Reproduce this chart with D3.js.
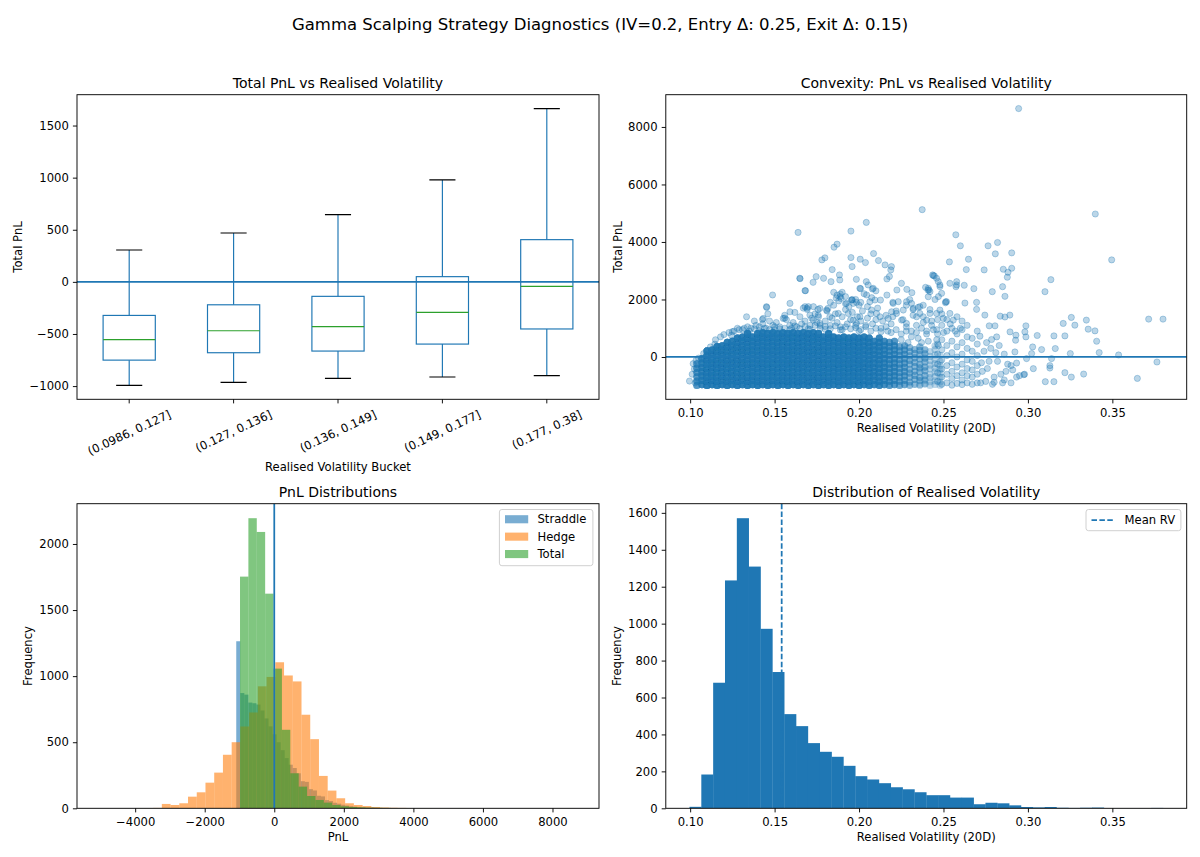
<!doctype html>
<html>
<head>
<meta charset="utf-8">
<script src="https://cdn.jsdelivr.net/npm/d3@7"></script>
<style>
  body { margin: 0; background: #fff; }
  svg { font-family: "DejaVu Sans", sans-serif; }
</style>
</head>
<body>
<script>
// ---------- data: box plot of total PnL by realised-vol bucket ----------
var bucketLabels = ["(0.0986, 0.127]", "(0.127, 0.136]", "(0.136, 0.149]", "(0.149, 0.177]", "(0.177, 0.38]"];
var whiskerLow  = [-994, -965, -926, -913, -900];
var boxQ1       = [-751, -680, -664, -597, -452];
var boxMedian   = [-554, -469, -430, -293, -43];
var boxQ3       = [-322, -220, -139, 50, 405];
var whiskerHigh = [306, 469, 645, 978, 1663];

// ---------- data: scatter, total PnL vs realised vol ----------
// dense core: [rv, overlapping points per position, pnl values]
var coreColumns = [
  [0.104, 4, [-990,-840,-690,-540,-390,-240]],
  [0.107, 6, [-960,-810,-660,-510,-360,-210,-60]],
  [0.110, 8, [-990,-840,-690,-540,-390,-240,-90,60,210]],
  [0.113, 8, [-960,-810,-660,-510,-360,-210,-60,90,240]],
  [0.116, 8, [-990,-840,-690,-540,-390,-240,-90,60,210,360]],
  [0.119, 8, [-960,-810,-660,-510,-360,-210,-60,90,240,390]],
  [0.122, 8, [-990,-840,-690,-540,-390,-240,-90,60,210,360,510]],
  [0.125, 8, [-960,-810,-660,-510,-360,-210,-60,90,240,390,540]],
  [0.128, 8, [-990,-840,-690,-540,-390,-240,-90,60,210,360,510,660]],
  [0.131, 8, [-960,-810,-660,-510,-360,-210,-60,90,240,390,540,690]],
  [0.134, 8, [-990,-840,-690,-540,-390,-240,-90,60,210,360,510,660,810]],
  [0.137, 8, [-960,-810,-660,-510,-360,-210,-60,90,240,390,540,690]],
  [0.140, 8, [-990,-840,-690,-540,-390,-240,-90,60,210,360,510,660,810]],
  [0.143, 8, [-960,-810,-660,-510,-360,-210,-60,90,240,390,540,690,840]],
  [0.146, 8, [-990,-840,-690,-540,-390,-240,-90,60,210,360,510,660,810]],
  [0.149, 8, [-960,-810,-660,-510,-360,-210,-60,90,240,390,540,690,840]],
  [0.152, 8, [-990,-840,-690,-540,-390,-240,-90,60,210,360,510,660,810]],
  [0.155, 8, [-960,-810,-660,-510,-360,-210,-60,90,240,390,540,690,840]],
  [0.158, 8, [-990,-840,-690,-540,-390,-240,-90,60,210,360,510,660,810]],
  [0.161, 8, [-960,-810,-660,-510,-360,-210,-60,90,240,390,540,690,840]],
  [0.164, 8, [-990,-840,-690,-540,-390,-240,-90,60,210,360,510,660,810]],
  [0.167, 8, [-960,-810,-660,-510,-360,-210,-60,90,240,390,540,690,840]],
  [0.170, 8, [-990,-840,-690,-540,-390,-240,-90,60,210,360,510,660,810]],
  [0.173, 8, [-960,-810,-660,-510,-360,-210,-60,90,240,390,540,690,840]],
  [0.176, 8, [-990,-840,-690,-540,-390,-240,-90,60,210,360,510,660,810]],
  [0.179, 8, [-960,-810,-660,-510,-360,-210,-60,90,240,390,540,690]],
  [0.182, 8, [-990,-840,-690,-540,-390,-240,-90,60,210,360,510,660,810]],
  [0.185, 8, [-960,-810,-660,-510,-360,-210,-60,90,240,390,540,690]],
  [0.188, 8, [-990,-840,-690,-540,-390,-240,-90,60,210,360,510,660]],
  [0.191, 8, [-960,-810,-660,-510,-360,-210,-60,90,240,390,540,690]],
  [0.194, 8, [-990,-840,-690,-540,-390,-240,-90,60,210,360,510,660]],
  [0.197, 8, [-960,-810,-660,-510,-360,-210,-60,90,240,390,540,690]],
  [0.200, 8, [-990,-840,-690,-540,-390,-240,-90,60,210,360,510,660]],
  [0.203, 7, [-960,-810,-660,-510,-360,-210,-60,90,240,390,540,690]],
  [0.206, 7, [-990,-840,-690,-540,-390,-240,-90,60,210,360,510,660]],
  [0.209, 6, [-960,-810,-660,-510,-360,-210,-60,90,240,390,540]],
  [0.212, 6, [-990,-840,-690,-540,-390,-240,-90,60,210,360,510,660]],
  [0.215, 5, [-960,-810,-660,-510,-360,-210,-60,90,240,390,540]],
  [0.218, 4, [-990,-840,-690,-540,-390,-240,-90,60,210,360,510]],
  [0.221, 4, [-960,-810,-660,-510,-360,-210,-60,90,240,390,540]],
  [0.224, 3, [-990,-840,-690,-540,-390,-240,-90,60,210,360]],
  [0.227, 3, [-960,-810,-660,-510,-360,-210,-60,90,240,390]],
  [0.230, 2, [-985,-870,-700,-560,-430,-250,-120,40,190,330]],
  [0.233, 2, [-950,-780,-640,-500,-330,-190,-30,130,260]],
  [0.236, 2, [-975,-820,-710,-520,-380,-260,-70,80,230,350]],
  [0.239, 2, [-940,-800,-650,-480,-350,-170,-40,110,250]],
  [0.242, 1, [-990,-860,-720,-600,-410,-280,-130,20,190]],
  [0.245, 1, [-955,-830,-680,-520,-390,-230,-90,70,260,390]],
  [0.248, 1, [-980,-870,-700,-560,-420,-300,-150,60]]
];
// individually visible points: [rv, pnl]
var scatterPoints = [
  [0.0996,-838],[0.1018,-233],[0.1012,-600],[0.1025,-420],[0.1030,-900],[0.1035,-120],[0.1050,-40],[0.1080,120],
  [0.112,350],[0.1146,444],[0.115,600],[0.118,700],[0.120,780],[0.1245,758],[0.123,850],[0.126,900],[0.128,1000],
  [0.131,950],[0.1334,1399],[0.134,1050],[0.136,1000],[0.139,1100],[0.141,1050],[0.1433,1340],[0.143,1150],
  [0.145,1000],[0.1452,1748],[0.147,1250],[0.1488,2156],[0.149,1100],[0.151,1200],[0.153,1050],[0.1551,1340],
  [0.157,1300],[0.159,1100],[0.1591,1864],[0.1591,1573],[0.161,1200],[0.163,1050],[0.165,1400],[0.166,1150],
  [0.168,1250],[0.1680,1748],[0.1693,1655],[0.171,1100],[0.172,1350],[0.174,1500],[0.175,1200],[0.177,1100],
  [0.180,1250],[0.181,1600],[0.183,1100],[0.184,1350],[0.186,1500],[0.187,1200],[0.189,1050],[0.190,1400],
  [0.192,1650],[0.193,1150],[0.195,1300],[0.196,1550],[0.198,1100],[0.199,1400],[0.201,1250],[0.202,1600],
  [0.204,1050],[0.205,1350],[0.207,1500],[0.208,1150],[0.210,1300],[0.211,1700],[0.213,1000],[0.214,1250],
  [0.216,1450],[0.217,900],[0.219,1150],[0.220,1400],[0.222,1600],[0.150,950],[0.160,1000],[0.170,980],
  [0.180,960],[0.190,950],[0.200,900],[0.146,1500],[0.167,1700],[0.173,1750],[0.185,1800],[0.194,1750],
  [0.198,2000],[0.201,1900],[0.185,2250],[0.192,2100],[0.183,1900],[0.138,1250],[0.156,1450],[0.162,1550],
  [0.1768,1690],[0.1758,1457],[0.1808,1632],[0.1827,1399],[0.1709,1457],[0.1729,1282],[0.1768,1166],
  [0.1887,2097],[0.1926,1865],[0.1956,1981],[0.1966,1865],[0.2005,2389],[0.2045,2156],[0.2054,2505],
  [0.2084,2389],[0.1877,1515],[0.1936,1515],[0.1966,1282],[0.1985,1166],[0.2005,1399],[0.2064,1923],
  [0.2094,1981],[0.2074,1632],[0.2104,1515],[0.2124,1399],[0.2202,1865],[0.2232,1923],[0.2262,1632],
  [0.2281,1923],[0.2311,1865],[0.2321,1690],[0.2360,1748],[0.2380,1399],[0.2400,1282],[0.2410,2389],
  [0.2420,2272],[0.2469,2622],[0.2479,2447],[0.2489,2214],[0.2518,1923],[0.2538,2563],[0.2578,2505],
  [0.2173,1340],[0.2193,1573],[0.2222,1515],[0.2252,1282],[0.2281,1166],[0.2341,1399],[0.2360,1515],
  [0.2420,1515],[0.2459,1515],[0.2479,1632],[0.2499,1340],[0.2538,1515],[0.2558,1282],
  [0.125,880],[0.129,950],[0.132,1000],[0.135,900],[0.138,980],[0.141,920],[0.144,1000],[0.147,950],
  [0.150,1050],[0.153,980],[0.156,1000],[0.159,950],[0.162,1080],[0.165,990],[0.168,1050],[0.171,960],
  [0.174,1100],[0.177,1000],[0.180,1060],[0.183,980],[0.186,1080],[0.189,940],[0.192,1050],[0.195,980],
  [0.198,1020],[0.201,950],[0.204,1100],[0.207,900],[0.210,1000],[0.213,880],[0.216,1050],[0.219,850],
  [0.222,950],[0.225,800],[0.228,1050],[0.231,900],[0.234,850],[0.237,1000],[0.240,900],[0.243,1100],
  [0.246,950],[0.250,850],[0.254,1150],[0.257,900],[0.260,1000],
  [0.2945,8640],[0.2374,5124],[0.3399,4972],[0.2043,4681],[0.1639,4332],[0.1952,4378],[0.2573,4250],
  [0.2600,3866],[0.2764,3866],[0.2820,3982],[0.1852,3819],[0.1870,3924],[0.2904,3621],[0.2807,3587],
  [0.2086,3598],[0.1780,3377],[0.1798,3447],[0.1952,3458],[0.2007,3400],[0.2038,3284],[0.2115,3354],
  [0.2154,3202],[0.2192,3144],[0.2188,3028],[0.1959,3144],[0.2535,3307],[0.2648,3400],[0.2635,3039],
  [0.2741,3028],[0.2854,3051],[0.2904,3086],[0.2882,2946],[0.2878,2774],[0.3496,3377],[0.3136,2690],
  [0.3101,2271],[0.1841,3039],[0.1884,2853],[0.1746,2795],[0.1790,2737],[0.1834,2620],[0.1728,2597],
  [0.1651,2725],[0.1886,2678],[0.1984,2702],[0.2043,2620],[0.1680,2306],[0.2165,2713],[0.2180,2800],
  [0.2251,2562],[0.2283,2352],[0.2313,2236],[0.2224,2329],[0.2165,2154],[0.2127,1980],[0.2075,2061],
  [0.2009,2376],[0.2079,2364],[0.1889,2189],[0.1893,2038],[0.1957,1980],[0.2394,2422],[0.2408,2329],
  [0.2436,2854],[0.2440,2830],[0.2446,2820],[0.2459,2739],[0.2479,2505],[0.2414,2330],[0.2410,2096],
  [0.2512,1886],[0.2578,2620],[0.2574,2445],[0.2623,2494],[0.2680,2376],[0.2789,2271],[0.2850,2445],
  [0.2864,2110],[0.2627,1876],[0.2696,1900],[0.2696,1656],[0.2513,1921],[0.2350,1726],[0.1453,1723],
  [0.1428,1304],[0.1692,1700],[0.1700,1750],[0.1757,1654],[0.1816,1688],[0.1760,1397],[0.1560,1350],
  [0.1649,2738],[0.1683,2306],[0.1865,2050],[0.1870,2150],[0.1900,2250],[0.1880,1950],[0.1920,1850],
  [0.1960,2000],[0.1985,1900],[0.2000,1800],[0.2030,2200],[0.2100,2300],[0.2050,1750],[0.2200,1900],
  [0.2280,1800],[0.2300,2000],[0.2320,1650],[0.2380,1800],[0.2420,1650],[0.2450,2000],[0.2470,2100],
  [0.225,600],[0.228,900],[0.231,700],[0.234,1100],[0.237,500],[0.240,800],[0.243,1250],[0.246,600],
  [0.226,1300],[0.232,1450],[0.238,1200],[0.244,950],[0.229,500],[0.235,650],[0.241,550],[0.247,400],
  [0.2465,-850],[0.2465,-550],[0.2465,-250],[0.2465,100],[0.2465,450],[0.2465,800],[0.2465,1300],
  [0.249,-950],[0.249,-700],[0.249,-420],[0.249,-100],[0.249,250],[0.249,600],[0.249,1100],[0.249,1500],
  [0.252,-900],[0.252,-600],[0.252,-300],[0.252,50],[0.252,400],[0.252,900],[0.252,1300],
  [0.255,-980],[0.255,-750],[0.255,-500],[0.255,-200],[0.255,150],[0.255,550],[0.255,1000],
  [0.258,-920],[0.258,-650],[0.258,-350],[0.258,0],[0.258,350],[0.258,800],[0.258,1400],
  [0.261,-960],[0.261,-800],[0.261,-550],[0.261,-250],[0.261,100],[0.261,500],[0.261,950],[0.261,1250],
  [0.264,-900],[0.264,-650],[0.264,-400],[0.264,-100],[0.264,300],[0.264,700],[0.264,1100],
  [0.267,-950],[0.267,-700],[0.267,-450],[0.267,-150],[0.267,200],[0.267,650],
  [0.270,-900],[0.270,-600],[0.270,-300],[0.270,50],[0.270,450],[0.270,900],
  [0.2745,1457],[0.2836,1420],[0.2864,1390],[0.2893,1457],[0.2988,1083],[0.3055,748],[0.3154,734],
  [0.3219,734],[0.3209,1167],[0.3257,1376],[0.3278,1107],[0.3346,1282],[0.3357,968],[0.3397,908],
  [0.3407,548],[0.3422,153],[0.3537,70],[0.3715,1317],[0.3800,1317],[0.3764,-175],[0.3648,-744],
  [0.3330,-594],[0.3257,-699],[0.3219,-545],[0.3154,-859],[0.3103,-859],[0.3130,-384],[0.3130,-300],
  [0.3140,-56],[0.3032,-405],[0.2976,-615],[0.3162,294],[0.3251,119],[0.3081,259],[0.3028,349],
  [0.3022,119],[0.2992,-56],[0.2982,873],[0.2988,699],[0.2929,758],[0.2927,583],[0.2923,175],
  [0.2933,-210],[0.2900,-300],[0.2933,-699],[0.2900,-900],[0.2850,-900],[0.2800,-880],[0.2750,-850],
  [0.2771,1083],[0.2805,1083],[0.2716,723],[0.2785,608],[0.2894,873],[0.2815,699],[0.2870,-500],
  [0.2840,-600],[0.2880,-250],[0.2820,-150],[0.2860,100],[0.2780,300],[0.2830,400],[0.2760,-400],
  [0.2800,-700],[0.2720,-900],[0.2740,200],[0.2860,-800],[0.2950,-650],[0.2910,-450],[0.2980,-600],
  [0.2730,-500],[0.2770,-150],[0.2790,-950],[0.2810,150],[0.2755,500],[0.2725,-200]
];

// ---------- data: PnL histograms (bin start, bin width, counts) ----------
var straddleStart = -1093, straddleWidth = 116;
var straddleCounts = [1264,872,860,800,795,785,740,680,620,560,500,440,380,330,305,265,205,200,145,135,
                      95,90,62,55,42,35,27,21,16,12,9,7,5,4,3,2,2,1,1,1];
var hedgeStart = -4990, hedgeWidth = 251;
var hedgeCounts = [1,0,0,0,1,2,3,33,25,38,88,121,194,270,405,500,619,725,923,994,
                   1105,1005,960,708,523,245,134,76,38,25,17,10,6,4,3,2,1,1,0,1];
var totalStart = -985, totalWidth = 241;
var totalCounts = [1753,2195,2091,1624,1057,594,265,164,93,63,43,25,15,10,7,5,4,3,2,2,
                   1,1,1,1,0,0,1,0,0,0,0,0,0,0,0,0,0,0,0,1];

// ---------- data: realised vol histogram ----------
var rvStart = 0.0996, rvWidth = 0.00701;
var rvCounts = [8,183,680,1234,1571,1309,972,738,510,445,353,306,279,230,174,156,136,114,103,87,
                71,71,58,58,22,30,27,16,7,5,7,3,2,3,4,0,1,1,1,2];
var meanRV = 0.1542;

// ---------- layout ----------
var blue = "#1f77b4", orange = "#ff7f0e", green = "#2ca02c";
var FS = 11.6, TFS = 14;
var pTL = {x0: 77, x1: 599, y0: 94.7, y1: 399.3};
var pTR = {x0: 665.8, x1: 1186.7, y0: 94.7, y1: 399.3};
var pBL = {x0: 77, x1: 599, y0: 503.7, y1: 808.3};
var pBR = {x0: 665.8, x1: 1186.7, y0: 503.7, y1: 808.3};

var svg = d3.select("body").append("svg")
    .attr("width", 1200)
    .attr("height", 857);
var defs = svg.append("defs");

function pad(ext) {
    var m = (ext[1] - ext[0]) * 0.05;
    return [ext[0] - m, ext[1] + m];
}

function plotArea(p, id) {
    defs.append("clipPath").attr("id", id).append("rect")
        .attr("x", p.x0).attr("y", p.y0).attr("width", p.x1 - p.x0).attr("height", p.y1 - p.y0);
    return svg.append("g").attr("clip-path", "url(#" + id + ")");
}

function styleAxis(ax) {
    ax.select(".domain").remove();
    ax.attr("font-size", FS).attr("font-family", "DejaVu Sans");
    ax.selectAll("line").attr("stroke", "#000").attr("stroke-width", 0.93);
    ax.selectAll("text").attr("fill", "#000");
}

function yAxis(p, scale, ticks, fmt) {
    var ax = svg.append("g").attr("transform", `translate(${p.x0},0)`)
        .call(d3.axisLeft(scale).tickValues(ticks).tickFormat(fmt).tickSize(4.1).tickPadding(4.1));
    styleAxis(ax);
}

function xAxis(p, scale, ticks, fmt) {
    var ax = svg.append("g").attr("transform", `translate(0,${p.y1})`)
        .call(d3.axisBottom(scale).tickValues(ticks).tickFormat(fmt).tickSize(4.1).tickPadding(4.1));
    styleAxis(ax);
    ax.selectAll("text").attr("dy", "0.78em");
}

function frame(p) {
    svg.append("rect")
        .attr("x", p.x0).attr("y", p.y0).attr("width", p.x1 - p.x0).attr("height", p.y1 - p.y0)
        .attr("fill", "none").attr("stroke", "#000").attr("stroke-width", 0.93);
}

function labels(p, title, xlab, xlabY, ylab, ylabX) {
    svg.append("text").attr("x", (p.x0 + p.x1) / 2).attr("y", p.y0 - 7)
        .attr("text-anchor", "middle").attr("font-size", TFS).text(title);
    svg.append("text").attr("x", (p.x0 + p.x1) / 2).attr("y", xlabY)
        .attr("text-anchor", "middle").attr("font-size", FS).text(xlab);
    svg.append("text")
        .attr("transform", `translate(${ylabX},${(p.y0 + p.y1) / 2})rotate(-90)`)
        .attr("text-anchor", "middle").attr("font-size", FS).text(ylab);
}

// suptitle
svg.append("text").attr("x", 600).attr("y", 30).attr("text-anchor", "middle")
    .attr("font-size", 16.5)
    .text("Gamma Scalping Strategy Diagnostics (IV=0.2, Entry \u0394: 0.25, Exit \u0394: 0.15)");

// ---------- top left: box plot ----------
(function () {
    var p = pTL;
    var x = d3.scaleLinear().domain([0.5, bucketLabels.length + 0.5]).range([p.x0, p.x1]);
    var y = d3.scaleLinear().domain(pad([d3.min(whiskerLow), d3.max(whiskerHigh)])).range([p.y1, p.y0]);
    var g = plotArea(p, "clipTL");
    var hw = 0.25;
    bucketLabels.forEach(function (lab, i) {
        var c = i + 1;
        g.append("line").attr("x1", x(c)).attr("x2", x(c)).attr("y1", y(boxQ1[i])).attr("y2", y(whiskerLow[i]))
            .attr("stroke", blue).attr("stroke-width", 1.17);
        g.append("line").attr("x1", x(c)).attr("x2", x(c)).attr("y1", y(boxQ3[i])).attr("y2", y(whiskerHigh[i]))
            .attr("stroke", blue).attr("stroke-width", 1.17);
        [whiskerLow[i], whiskerHigh[i]].forEach(function (v) {
            g.append("line").attr("x1", x(c - hw / 2)).attr("x2", x(c + hw / 2)).attr("y1", y(v)).attr("y2", y(v))
                .attr("stroke", "#000").attr("stroke-width", 1.17);
        });
        g.append("rect").attr("x", x(c - hw)).attr("width", x(c + hw) - x(c - hw))
            .attr("y", y(boxQ3[i])).attr("height", y(boxQ1[i]) - y(boxQ3[i]))
            .attr("fill", "none").attr("stroke", blue).attr("stroke-width", 1.17);
        g.append("line").attr("x1", x(c - hw)).attr("x2", x(c + hw)).attr("y1", y(boxMedian[i])).attr("y2", y(boxMedian[i]))
            .attr("stroke", green).attr("stroke-width", 1.17);
    });
    g.append("line").attr("x1", p.x0).attr("x2", p.x1).attr("y1", y(0)).attr("y2", y(0))
        .attr("stroke", blue).attr("stroke-width", 1.75);
    frame(p);
    yAxis(p, y, [-1000, -500, 0, 500, 1000, 1500], d3.format("d"));
    // category ticks with rotated labels
    var ax = svg.append("g").attr("font-size", FS);
    var ang = 25 * Math.PI / 180;
    bucketLabels.forEach(function (lab, i) {
        var cx = x(i + 1);
        ax.append("line").attr("x1", cx).attr("x2", cx).attr("y1", p.y1).attr("y2", p.y1 + 4.1)
            .attr("stroke", "#000").attr("stroke-width", 0.93);
        var t = ax.append("text").attr("text-anchor", "middle").attr("dy", "0.35em").text(lab);
        var w = t.node().getComputedTextLength();
        var bh = w * Math.sin(ang) + 13.5 * Math.cos(ang);
        t.attr("transform", `translate(${cx},${p.y1 + 8.2 + bh / 2})rotate(-25)`);
    });
    labels(p, "Total PnL vs Realised Volatility", "Realised Volatility Bucket", 471, "Total PnL", 22);
})();

// ---------- top right: scatter ----------
(function () {
    var p = pTR;
    var stacked = [];
    coreColumns.forEach(function (c) {
        c[2].forEach(function (v) {
            for (var k = 0; k < c[1]; k++) stacked.push([c[0], v]);
        });
    });
    var all = stacked.concat(scatterPoints);
    var x = d3.scaleLinear().domain(pad(d3.extent(all, d => d[0]))).range([p.x0, p.x1]);
    var y = d3.scaleLinear().domain(pad(d3.extent(all, d => d[1]))).range([p.y1, p.y0]);
    var g = plotArea(p, "clipTR");
    // stacked points: edge rings vanish under the overlap, so fill only
    g.append("g").selectAll("circle").data(stacked).join("circle")
        .attr("cx", d => x(d[0]))
        .attr("cy", d => y(d[1]))
        .attr("r", 3.6)
        .attr("fill", blue).attr("fill-opacity", 0.3);
    g.append("g").selectAll("circle").data(scatterPoints).join("circle")
        .attr("cx", d => x(d[0]))
        .attr("cy", d => y(d[1]))
        .attr("r", 3.1)
        .attr("fill", blue).attr("fill-opacity", 0.3)
        .attr("stroke", blue).attr("stroke-opacity", 0.3).attr("stroke-width", 1);
    g.append("line").attr("x1", p.x0).attr("x2", p.x1).attr("y1", y(0)).attr("y2", y(0))
        .attr("stroke", blue).attr("stroke-width", 1.75);
    frame(p);
    yAxis(p, y, [0, 2000, 4000, 6000, 8000], d3.format("d"));
    xAxis(p, x, [0.10, 0.15, 0.20, 0.25, 0.30, 0.35], d3.format(".2f"));
    labels(p, "Convexity: PnL vs Realised Volatility", "Realised Volatility (20D)", 432, "Total PnL", 622);
})();

// ---------- bottom left: PnL histograms ----------
(function () {
    var p = pBL;
    var series = [
        {name: "Straddle", color: blue, start: straddleStart, width: straddleWidth, counts: straddleCounts},
        {name: "Hedge", color: orange, start: hedgeStart, width: hedgeWidth, counts: hedgeCounts},
        {name: "Total", color: green, start: totalStart, width: totalWidth, counts: totalCounts}
    ];
    series.forEach(function (s) {
        s.bins = s.counts.map((c, i) => ({x0: s.start + i * s.width, x1: s.start + (i + 1) * s.width, c: c}));
    });
    var lo = d3.min(series, s => s.start);
    var hi = d3.max(series, s => s.start + s.counts.length * s.width);
    var x = d3.scaleLinear().domain(pad([lo, hi])).range([p.x0, p.x1]);
    var y = d3.scaleLinear().domain([0, d3.max(series, s => d3.max(s.counts)) * 1.05]).range([p.y1, p.y0]);
    var g = plotArea(p, "clipBL");
    series.forEach(function (s) {
        g.append("g").selectAll("rect").data(s.bins.filter(b => b.c > 0)).join("rect")
            .attr("x", b => x(b.x0))
            .attr("width", b => x(b.x1) - x(b.x0))
            .attr("y", b => y(b.c))
            .attr("height", b => y(0) - y(b.c))
            .attr("fill", s.color).attr("fill-opacity", 0.6);
    });
    g.append("line").attr("x1", x(0)).attr("x2", x(0)).attr("y1", p.y0).attr("y2", p.y1)
        .attr("stroke", blue).attr("stroke-width", 1.75);
    frame(p);
    yAxis(p, y, [0, 500, 1000, 1500, 2000], d3.format("d"));
    xAxis(p, x, [-4000, -2000, 0, 2000, 4000, 6000, 8000], d3.format("d"));
    labels(p, "PnL Distributions", "PnL", 841, "Frequency", 32);
    // legend
    var lg = svg.append("g").attr("font-size", FS);
    lg.append("rect").attr("x", 499.4).attr("y", 509.5).attr("width", 93.5).attr("height", 56.2)
        .attr("rx", 2.5).attr("fill", "#fff").attr("fill-opacity", 0.8)
        .attr("stroke", "#cccccc").attr("stroke-width", 0.93);
    series.forEach(function (s, i) {
        var cy = 519.3 + i * 17.4;
        lg.append("rect").attr("x", 505).attr("y", cy - 4.1).attr("width", 23.2).attr("height", 8.1)
            .attr("fill", s.color).attr("fill-opacity", 0.6);
        lg.append("text").attr("x", 537.5).attr("y", cy).attr("dy", "0.36em").text(s.name);
    });
})();

// ---------- bottom right: realised vol histogram ----------
(function () {
    var p = pBR;
    var bins = rvCounts.map((c, i) => ({x0: rvStart + i * rvWidth, x1: rvStart + (i + 1) * rvWidth, c: c}));
    var x = d3.scaleLinear().domain(pad([rvStart, rvStart + rvCounts.length * rvWidth])).range([p.x0, p.x1]);
    var y = d3.scaleLinear().domain([0, d3.max(rvCounts) * 1.05]).range([p.y1, p.y0]);
    var g = plotArea(p, "clipBR");
    g.selectAll("rect").data(bins.filter(b => b.c > 0)).join("rect")
        .attr("x", b => x(b.x0))
        .attr("width", b => x(b.x1) - x(b.x0) + 0.3)
        .attr("y", b => y(b.c))
        .attr("height", b => y(0) - y(b.c))
        .attr("fill", blue);
    g.append("line").attr("x1", x(meanRV)).attr("x2", x(meanRV)).attr("y1", p.y0).attr("y2", p.y1)
        .attr("stroke", blue).attr("stroke-width", 1.75).attr("stroke-dasharray", "5.5,2.4");
    frame(p);
    yAxis(p, y, [0, 200, 400, 600, 800, 1000, 1200, 1400, 1600], d3.format("d"));
    xAxis(p, x, [0.10, 0.15, 0.20, 0.25, 0.30, 0.35], d3.format(".2f"));
    labels(p, "Distribution of Realised Volatility", "Realised Volatility (20D)", 841, "Frequency", 620.5);
    var lg = svg.append("g").attr("font-size", FS);
    lg.append("rect").attr("x", 1086).attr("y", 509.5).attr("width", 94.9).attr("height", 21.2)
        .attr("rx", 2.5).attr("fill", "#fff").attr("fill-opacity", 0.8)
        .attr("stroke", "#cccccc").attr("stroke-width", 0.93);
    lg.append("line").attr("x1", 1091.5).attr("x2", 1114.7).attr("y1", 520.2).attr("y2", 520.2)
        .attr("stroke", blue).attr("stroke-width", 1.75).attr("stroke-dasharray", "5.5,2.4");
    lg.append("text").attr("x", 1124.5).attr("y", 520.2).attr("dy", "0.36em").text("Mean RV");
})();
</script>
</body>
</html>
